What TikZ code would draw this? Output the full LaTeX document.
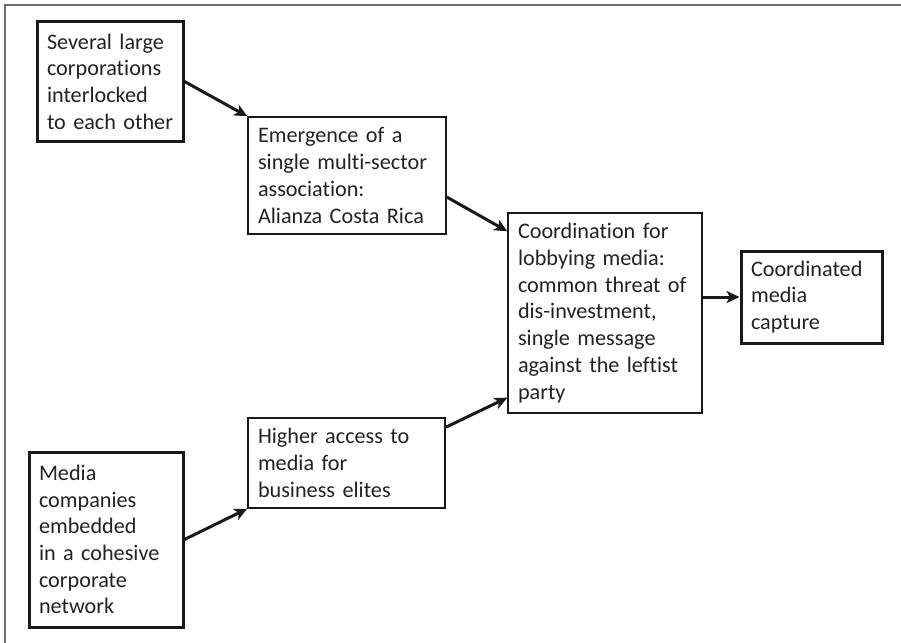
\documentclass[tikz,border=0pt]{standalone}
\usepackage{fontspec}
\setmainfont[Ligatures={NoCommon}]{Carlito}
\usetikzlibrary{arrows.meta,positioning,calc}
\definecolor{frameg}{HTML}{6E6E6E}
\definecolor{txtg}{HTML}{222222}
\tikzset{
  cbox/.style = {draw=black!90, line width=1.4pt, align=left, inner xsep=10pt,
                 inner ysep=0pt, text=txtg, font=\fontsize{22.2pt}{26.7pt}\selectfont},
  tbox/.style = {cbox, line width=3pt},
  ar/.style   = {-{Stealth[length=13pt,width=12pt,inset=3.5pt]}, line width=3pt, black!90},
}
\begin{document}
\begin{tikzpicture}[x=1pt, y=-1pt]
  \useasboundingbox (0,0) rectangle (901,642);
  \draw[frameg, line width=1.6pt] (5,650) -- (5,5) -- (910,5);
  % boxes
  \node[tbox, text width=126pt, minimum height=119pt] (corp) at (110,81.5)
    {Several~large\\corporations\\interlocked\\to~each~other};
  \node[cbox, text width=178pt, minimum height=117pt] (assoc) at (347,175.5)
    {Emergence~of~a\\single~multi-sector\\association:\\Alianza~Costa~Rica};
  \node[cbox, text width=174pt, minimum height=200pt] (coord) at (605,313)
    {Coordination~for\\lobbying~media:\\common~threat~of\\dis-investment,\\single~message\\against~the~leftist\\party};
  \node[tbox, text width=121pt, minimum height=92pt] (capture) at (811.5,297)
    {Coordinated\\media\\capture};
  \node[cbox, text width=177pt, minimum height=90pt] (access) at (346.5,463)
    {Higher~access~to\\media~for\\business~elites};
  \node[tbox, text width=134pt, minimum height=175pt] (media) at (106,539.5)
    {Media\\companies\\embedded\\in~a~cohesive\\corporate\\network};
  % arrows
  \draw[ar] (corp.east) -- (assoc.north west);
  \draw[ar] ([yshift=-21.5pt]assoc.east) -- ([yshift=-19pt]coord.north west);
  \draw[ar] (coord.east |- capture.west) -- (capture.west);
  \draw[ar] (media.east) -- (access.south west);
  \draw[ar] ([yshift=-10pt]access.north east) -- ([yshift=16pt]coord.south west);
\end{tikzpicture}
\end{document}
